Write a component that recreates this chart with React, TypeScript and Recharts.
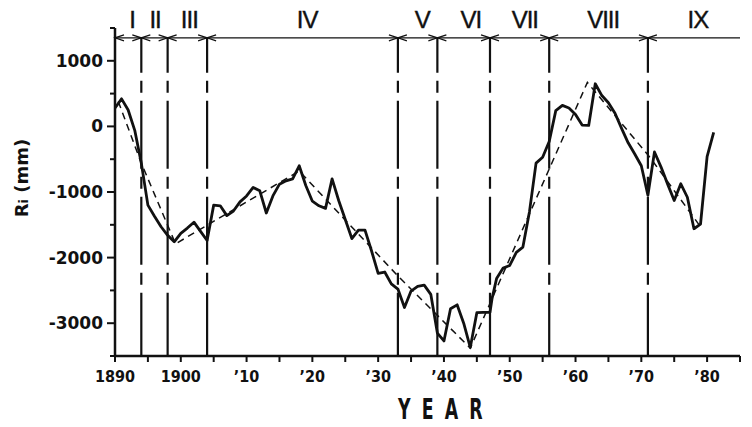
import React from 'react';
import { ComposedChart, Line, XAxis, YAxis, ReferenceLine, ReferenceDot, Label } from 'recharts';

// Ri (mm), yearly values
const years = [
  1890, 1891, 1892, 1893, 1894, 1895, 1896, 1897, 1898, 1899,
  1900, 1901, 1902, 1903, 1904, 1905, 1906, 1907, 1908, 1909,
  1910, 1911, 1912, 1913, 1914, 1915, 1916, 1917, 1918, 1919,
  1920, 1921, 1922, 1923, 1924, 1925, 1926, 1927, 1928, 1929,
  1930, 1931, 1932, 1933, 1934, 1935, 1936, 1937, 1938, 1939,
  1940, 1941, 1942, 1943, 1944, 1945, 1946, 1947, 1947.3, 1948, 1949,
  1950, 1951, 1952, 1953, 1954, 1955, 1956, 1957, 1958, 1959,
  1960, 1961, 1962, 1963, 1964, 1965, 1966, 1967, 1968, 1969,
  1970, 1971, 1972, 1973, 1974, 1975, 1976, 1977, 1978, 1979,
  1980, 1981,
];
const riValues = [
  280, 420, 250, -60, -560, -1200, -1370, -1530, -1660, -1760,
  -1630, -1550, -1460, -1600, -1740, -1200, -1210, -1360, -1290, -1150,
  -1060, -930, -980, -1320, -1060, -880, -830, -800, -600, -900,
  -1140, -1210, -1250, -800, -1130, -1420, -1710, -1580, -1580, -1900,
  -2240, -2220, -2400, -2480, -2760, -2510, -2440, -2420, -2560, -3150,
  -3270, -2780, -2720, -3000, -3370, -2840, -2835, -2835, -2630, -2320, -2160,
  -2120, -1920, -1840, -1300, -560, -470, -230, 240, 320, 280,
  180, 20, 15, 650, 470, 360, 200, -30, -250, -420,
  -600, -1050, -390, -620, -880, -1130, -875, -1080, -1560, -1490,
  -460, -90,
];

// dashed trend line vertices
const trendYears = [1890.5, 1894, 1899.2, 1918, 1933, 1944, 1961.8, 1971.3, 1979];
const trendValues = [380, -560, -1790, -680, -2280, -3380, 670, -470, -1530];

// period boundaries and names
const periodBounds = [1894, 1898, 1904, 1933, 1939, 1947, 1956, 1971];
const periodNames = ['I', 'II', 'III', 'IV', 'V', 'VI', 'VII', 'VIII', 'IX'];
const periodLabelYears = [1892.6, 1896.1, 1901.3, 1919.2, 1936.7, 1944.1, 1952.3, 1964.2, 1978.6];
const arrowLevel = 1350;

const xTicks = [1890, 1895, 1900, 1905, 1910, 1915, 1920, 1925, 1930, 1935, 1940, 1945, 1950, 1955, 1960, 1965, 1970, 1975, 1980, 1985];
const xTickLabels: Record<number, string> = {
  1890: '1890', 1900: '1900', 1910: '\u201910', 1920: '\u201920', 1930: '\u201930',
  1940: '\u201940', 1950: '\u201950', 1960: '\u201960', 1970: '\u201970', 1980: '\u201980',
};
const yTicks = [1500, 1000, 500, 0, -500, -1000, -1500, -2000, -2500, -3000, -3500];
const yTickLabels: Record<number, string> = {
  1000: '1000', 0: '0', [-1000]: '-1000', [-2000]: '-2000', [-3000]: '-3000',
};

const ink = '#111';
const digitFont = '"DejaVu Sans", Arial, sans-serif';

const riData = years.map((year, i) => ({ year, ri: riValues[i] }));
const trendData = trendYears.map((year, i) => ({ year, trend: trendValues[i] }));

const YTick = (props: any) => {
  const { x, y, payload } = props;
  const v = payload.value;
  const major = v % 1000 === 0;
  const label = yTickLabels[v];
  return (
    <g>
      <line x1={x + 12 - (major ? 8 : 5)} x2={x + 12} y1={y} y2={y} stroke={ink} strokeWidth={2} />
      {label !== undefined && (
        <text x={x} y={y} dy={6} textAnchor="end" fontFamily={digitFont} fontWeight="bold" fontSize={17} fill={ink}>
          {label}
        </text>
      )}
    </g>
  );
};

const XTick = (props: any) => {
  const { x, y, payload } = props;
  const label = xTickLabels[payload.value];
  return (
    <g>
      <line x1={x} x2={x} y1={y - 10} y2={y - 4} stroke={ink} strokeWidth={2} />
      {label && (
        <text
          x={x}
          y={y + 16}
          textAnchor="middle"
          fontFamily='"DejaVu Sans Condensed", "DejaVu Sans", sans-serif'
          fontWeight="bold"
          fontSize={16}
          fill={ink}
        >
          {label}
        </text>
      )}
    </g>
  );
};

const arrowShape = (first: boolean) => (props: any) => {
  const { cx, cy } = props;
  return (
    <g stroke={ink} strokeWidth={1.2} fill="none">
      {!first && <polyline points={`${cx - 9},${cy - 3} ${cx},${cy} ${cx - 9},${cy + 3}`} />}
      <polyline points={`${cx + 9},${cy - 3} ${cx},${cy} ${cx + 9},${cy + 3}`} />
    </g>
  );
};

const periodLabelShape = (name: string) => (props: any) => {
  const { cx, cy } = props;
  return (
    <text
      x={cx}
      y={cy - 10}
      textAnchor="middle"
      fontFamily='"Liberation Sans", Arial, sans-serif'
      fontSize={24}
      letterSpacing={-1}
      fill={ink}
      stroke={ink}
      strokeWidth={0.4}
    >
      {name}
    </text>
  );
};

const YTitle = (props: any) => {
  const { viewBox } = props;
  const x = viewBox.x + 22;
  const y = 178;
  return (
    <text
      transform={`translate(${x},${y}) rotate(-90)`}
      textAnchor="middle"
      dy={6}
      fontFamily={digitFont}
      fontWeight="bold"
      fontSize={18}
      fill={ink}
    >
      R<tspan fontSize={13}>i</tspan> (mm)
    </text>
  );
};

const XTitle = (props: any) => {
  const { viewBox } = props;
  return (
    <g transform={`translate(${viewBox.x + 283},${viewBox.y + 63}) scale(0.62,1)`}>
      <text
        x={0}
        y={0}
        fontFamily={digitFont}
        fontWeight="bold"
        fontSize={28}
        letterSpacing={18}
        fill={ink}
      >
        YEAR
      </text>
    </g>
  );
};

export default function App() {
  return (
    <div style={{ position: 'absolute', left: 0, top: 0, background: '#fff' }}>
      <ComposedChart width={752} height={427} margin={{ top: 28, right: 12, bottom: 0, left: 0 }}>
        <XAxis
          type="number"
          dataKey="year"
          domain={[1890, 1985]}
          ticks={xTicks}
          interval={0}
          height={71}
          tickSize={6}
          tickMargin={4}
          tickLine={false}
          tick={<XTick />}
          axisLine={{ stroke: ink, strokeWidth: 2.5 }}
        >
          <Label content={<XTitle />} />
        </XAxis>
        <YAxis
          type="number"
          domain={[-3500, 1500]}
          ticks={yTicks}
          interval={0}
          width={115}
          tickSize={8}
          tickMargin={4}
          tickLine={false}
          tick={<YTick />}
          axisLine={{ stroke: ink, strokeWidth: 2.5 }}
        >
          <Label content={<YTitle />} />
        </YAxis>

        <ReferenceLine y={arrowLevel} stroke={ink} strokeWidth={1.2} />
        {periodBounds.map((b) => (
          <ReferenceLine
            key={`b-${b}`}
            segment={[{ x: b, y: arrowLevel }, { x: b, y: -3500 }]}
            stroke={ink}
            strokeWidth={2.2}
            strokeDasharray="68 8 12 8"
            strokeDashoffset={33}
          />
        ))}
        {[1890, ...periodBounds].map((b, i) => (
          <ReferenceDot key={`a-${b}`} x={b} y={arrowLevel} r={0} shape={arrowShape(i === 0)} />
        ))}
        {periodNames.map((name, i) => (
          <ReferenceDot key={`p-${name}`} x={periodLabelYears[i]} y={arrowLevel} r={0} shape={periodLabelShape(name)} />
        ))}

        <Line
          data={trendData}
          dataKey="trend"
          type="linear"
          stroke={ink}
          strokeWidth={1.5}
          strokeDasharray="7 5"
          dot={false}
          isAnimationActive={false}
        />
        <Line
          data={riData}
          dataKey="ri"
          type="linear"
          stroke={ink}
          strokeWidth={2.8}
          strokeLinejoin="round"
          dot={false}
          isAnimationActive={false}
        />
      </ComposedChart>
    </div>
  );
}
